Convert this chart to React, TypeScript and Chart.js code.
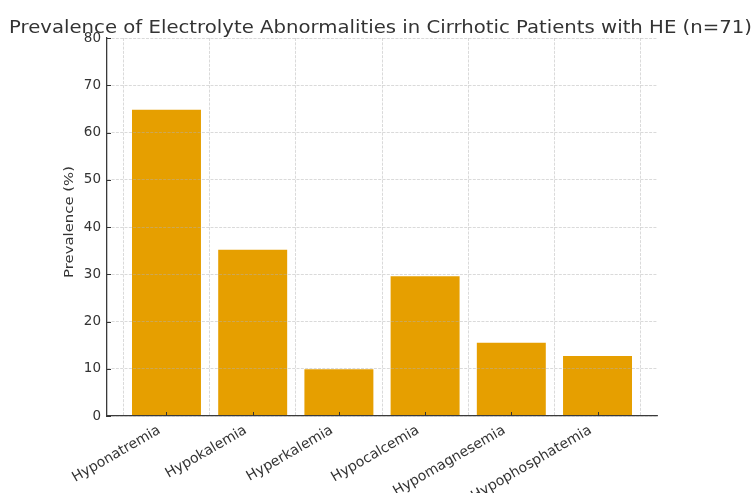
import React, { useEffect, useRef } from "react";
import { Chart, registerables } from "chart.js";

Chart.register(...registerables);

const TITLE = "Prevalence of Electrolyte Abnormalities in Cirrhotic Patients with HE (n=71)";
const Y_LABEL = "Prevalence (%)";
const categories = [
  "Hyponatremia",
  "Hypokalemia",
  "Hyperkalemia",
  "Hypocalcemia",
  "Hypomagnesemia",
  "Hypophosphatemia",
];
const prevalence = [64.8, 35.2, 9.9, 29.6, 15.5, 12.7];
const yTicks = [0, 10, 20, 30, 40, 50, 60, 70, 80];

const FONT = "'DejaVu Sans', sans-serif";
const TEXT = "#333333";

// draws text stretched along its length to a target length
function drawStretched(ctx: any, text: string, font: string, target: number) {
  ctx.font = font;
  const w = ctx.measureText(text).width;
  const sx = target / w;
  ctx.scale(sx, 1);
  ctx.fillText(text, 0, 0);
}

const textPlugin = {
  id: "mplText",
  afterDraw(chart: any) {
    const { ctx, chartArea } = chart;
    ctx.save();
    ctx.fillStyle = TEXT;
    ctx.textAlign = "center";
    ctx.textBaseline = "alphabetic";
    ctx.translate((chartArea.left + chartArea.right) / 2 - 1.5, 33);
    drawStretched(ctx, TITLE, `18px ${FONT}`, 743);
    ctx.restore();

    ctx.save();
    ctx.fillStyle = TEXT;
    ctx.textAlign = "center";
    ctx.textBaseline = "middle";
    ctx.translate(69.5, (chartArea.top + chartArea.bottom) / 2 - 5);
    ctx.rotate(-Math.PI / 2);
    drawStretched(ctx, Y_LABEL, `12.5px ${FONT}`, 112);
    ctx.restore();
  },
};

const innerTicks = {
  id: "innerTicks",
  afterDraw(chart: any) {
    const { ctx } = chart;
    const x = chart.scales.x;
    const y = chart.scales.y;
    ctx.save();
    ctx.strokeStyle = "#333333";
    ctx.lineWidth = 1;
    ctx.beginPath();
    x.ticks.forEach((_: any, i: number) => {
      const px = Math.round(x.getPixelForTick(i)) + 0.5;
      ctx.moveTo(px, y.bottom);
      ctx.lineTo(px, y.bottom - 4);
    });
    y.ticks.forEach((_: any, i: number) => {
      const py = Math.round(y.getPixelForTick(i)) + 0.5;
      ctx.moveTo(x.left, py);
      ctx.lineTo(x.left + 4, py);
    });
    ctx.stroke();
    ctx.restore();
  },
};

export default function App() {
  const ref = useRef<HTMLCanvasElement | null>(null);
  useEffect(() => {
    if (!ref.current) return;
    const gridColor = "rgba(176,176,176,0.6)";
    const chart = new Chart(ref.current, {
      type: "bar",
      data: {
        datasets: [
          {
            data: prevalence.map((v, i) => ({ x: i, y: v })),
            backgroundColor: "#E69F00",
            borderWidth: 0,
            barPercentage: 0.8,
            categoryPercentage: 1.0,
          },
        ],
      },
      options: {
        responsive: false,
        animation: false,
        layout: { padding: { top: 38, left: 57, right: 98, bottom: 0 } },
        plugins: {
          legend: { display: false },
          title: { display: false },
          tooltip: { enabled: false },
        },
        scales: {
          x: {
            type: "linear",
            min: -0.69,
            max: 5.69,
            offset: false,
            afterBuildTicks: (scale: any) => {
              scale.ticks = categories.map((_, i) => ({ value: i }));
            },
            afterFit: (scale: any) => {
              scale.height = 77;
            },
            ticks: {
              autoSkip: false,
              maxRotation: 30,
              minRotation: 30,
              padding: 6,
              labelOffset: -7,
              color: TEXT,
              font: { family: FONT, size: 14 },
              callback: (v: any) => categories[Math.round(Number(v))] ?? "",
            },
            grid: {
              z: 1,
              drawTicks: false,
              color: gridColor,
              lineWidth: 0.8,
            },
            border: { display: true, z: 1, color: "#3a3a3a", width: 1.3, dash: [3, 1.3] },
          },
          y: {
            min: 0,
            max: 80,
            afterBuildTicks: (scale: any) => {
              scale.ticks = yTicks.map((v) => ({ value: v }));
            },
            afterFit: (scale: any) => {
              scale.width = 50;
            },
            ticks: {
              padding: 6,
              color: TEXT,
              font: { family: FONT, size: 13.5 },
            },
            grid: {
              z: 1,
              drawTicks: false,
              color: gridColor,
              lineWidth: 0.8,
            },
            border: { display: true, z: 1, color: "#3a3a3a", width: 1.3, dash: [3, 1.3] },
          },
        },
      },
      plugins: [textPlugin, innerTicks],
    } as any);
    return () => chart.destroy();
  }, []);
  return (
    <div style={{ position: "fixed", left: 0, top: 0, width: 755, height: 493, background: "#fff" }}>
      <canvas ref={ref} width={755} height={493} />
    </div>
  );
}
